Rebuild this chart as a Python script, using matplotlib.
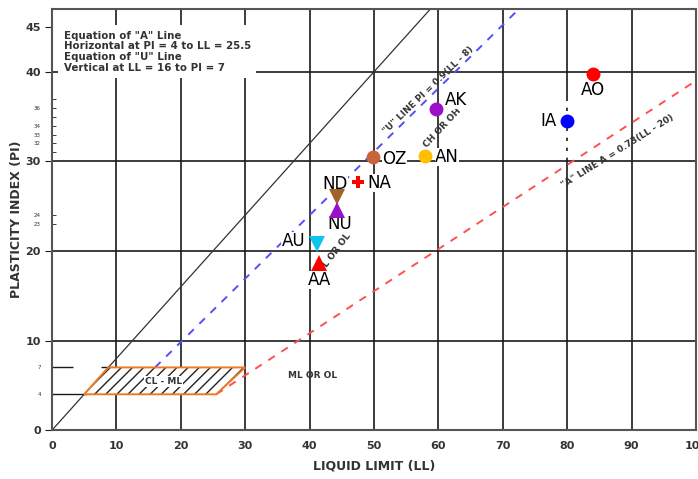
"""
Plasticity chart (Casagrande) with sample points.
"""

import matplotlib

matplotlib.use("Agg")
import matplotlib.pyplot as plt
from matplotlib.patches import Polygon

# sample points
names = ["AO", "IA", "AK", "AN", "OZ", "NA", "ND", "NU", "AU", "AA"]
liquid_limit = [84.0, 80.0, 59.6, 57.9, 49.8, 47.6, 44.3, 44.3, 41.2, 41.5]
plasticity_index = [39.8, 34.5, 35.8, 30.6, 30.5, 27.7, 26.0, 24.6, 20.8, 18.7]
markers = ["o", "o", "o", "o", "o", "P", "v", "^", "v", "^"]
colors = ["#ff0000", "#0000ff", "#9b0fcc", "#ffc000", "#c8643a",
          "#ff0000", "#a06428", "#9b0fcc", "#10c4f0", "#ff0000"]
label_offsets = [(0, -16), (-19, 0), (20, 9), (22, -1), (22, -2),
                 (21, -1), (-2, 13), (2, -14), (-24, 3), (0, -17)]

# reference lines
diag_ll = [0, 58.75]
diag_pi = [0, 47]
u_line_ll = [16, 72.5]
u_line_pi = [7, 47]
a_line_ll = [25.5, 100]
a_line_pi = [4, 39]
clml_ll = [5.0, 25.5, 30.0, 8.75]
clml_pi = [4, 4, 7, 7]

x_ticks = list(range(0, 101, 10))
y_ticks = [0, 10, 20, 30, 40, 45]
y_minor_labels = [4, 7, 23, 24, 32, 33, 34, 36]
y_minor_ticks = [4, 7, 23, 24, 31, 32, 33, 34, 35, 36, 37]

GRID = "#1a1a1a"
TXT = "#333333"

plt.rcParams["hatch.linewidth"] = 1.0

fig = plt.figure(figsize=(6.98, 4.79), dpi=100)
ax = fig.add_axes([0.0745, 0.102, 0.9225, 0.879])
ax.set_xlim(0, 100)
ax.set_ylim(0, 47)

# grid
for x in x_ticks[1:-1]:
    if x == 80:
        ax.vlines(x, 0, 30, color=GRID, lw=1.2, zorder=1)
        ax.vlines(x, 30, 37, color=GRID, lw=1.2, linestyles=(0, (2, 4)), zorder=1)
        ax.vlines(x, 37, 47, color=GRID, lw=1.2, zorder=1)
    else:
        ax.axvline(x, color=GRID, lw=1.2, zorder=1)
for y in [10, 20, 30, 40]:
    ax.axhline(y, color=GRID, lw=1.2, zorder=1)
ax.hlines(7, 0, 3.3, color=GRID, lw=1.0, zorder=1)
ax.hlines(7, 7.6, 9.5, color=GRID, lw=1.0, zorder=1)
ax.hlines(4, 0, 5.5, color=GRID, lw=1.0, zorder=1)

# lines
ax.plot(diag_ll, diag_pi, color="#333333", lw=0.9, zorder=2)
ax.plot(u_line_ll, u_line_pi, color="#5050ff", lw=1.4, ls=(0, (4, 4)), zorder=2)
ax.plot(a_line_ll, a_line_pi, color="#ff5050", lw=1.4, ls=(0, (4, 4)), zorder=2)

# CL-ML zone: black hatching with an orange outline
clml_xy = list(zip(clml_ll, clml_pi))
ax.add_patch(Polygon(clml_xy, closed=True, facecolor="white",
                     edgecolor="#222222", hatch="///", lw=0, zorder=3))
ax.add_patch(Polygon(clml_xy, closed=True, fill=False,
                     edgecolor="#f07820", lw=1.4, zorder=3))

# region labels
small = dict(fontsize=6.5, fontweight="bold", color=TXT, ha="center", va="center")
ax.text(17.3, 5.4, "CL - ML", zorder=4,
        bbox=dict(boxstyle="square,pad=0.1", fc="white", ec="none"), **small)
ax.text(40.5, 6.1, "ML OR OL", **small)
ax.text(43.9, 19.8, "CL OR OL", rotation=53, zorder=5, **small)
ax.text(60.6, 33.7, "CH OR OH", rotation=47, **small)
ax.text(58.5, 38.0, '"U" LINE PI = 0.9(LL - 8)', rotation=44, **small)
ax.text(87.9, 31.1, '"A" LINE A = 0.73(LL - 20)', rotation=32, **small)

ax.text(1.8, 44.6,
        'Equation of "A" Line\nHorizontal at PI = 4 to LL = 25.5\n'
        'Equation of "U" Line\nVertical at LL = 16 to PI = 7',
        fontsize=7.4, fontweight="bold", color=TXT, ha="left", va="top",
        linespacing=1.1, zorder=3,
        bbox=dict(boxstyle="square,pad=0.5", fc="white", ec="none"))

# samples
for name, ll, pi, m, c, off in zip(names, liquid_limit, plasticity_index,
                                   markers, colors, label_offsets):
    size = {"o": 10, "P": 9}.get(m, 11)
    ax.plot(ll, pi, marker=m, color=c, markersize=size,
            markeredgewidth=0, ls="none", zorder=7)
    ax.annotate(name, (ll, pi), xytext=off, textcoords="offset pixels",
                fontsize=12, ha="center", va="center", color="black", zorder=6,
                bbox=dict(boxstyle="square,pad=0.0", fc="white", ec="none"))

# axes styling
for side in ["left", "bottom", "right", "top"]:
    ax.spines[side].set_color("#555555")
    ax.spines[side].set_linewidth(1.5)

ax.set_xticks(x_ticks)
ax.set_xticklabels([str(x) for x in x_ticks], fontsize=8, fontweight="bold", color=TXT)
ax.tick_params(axis="x", length=0, pad=8)

ax.set_yticks(y_ticks)
ax.set_yticklabels([str(y) for y in y_ticks], fontsize=8, fontweight="bold", color=TXT)
ax.tick_params(axis="y", which="major", length=5, direction="out", color=GRID, pad=3)
ax.set_yticks(y_minor_ticks, minor=True)
ax.set_yticklabels([str(y) if y in y_minor_labels else "" for y in y_minor_ticks],
                   minor=True, fontsize=4, color=TXT)
ax.tick_params(axis="y", which="minor", length=3, direction="in", color=GRID, pad=8)

ax.set_xlabel("LIQUID LIMIT (LL)", fontsize=9, fontweight="bold", color=TXT, labelpad=6)
ax.set_ylabel("PLASTICITY INDEX (PI)", fontsize=9, fontweight="bold", color=TXT, labelpad=2)

fig.savefig("out.png", dpi=100)
